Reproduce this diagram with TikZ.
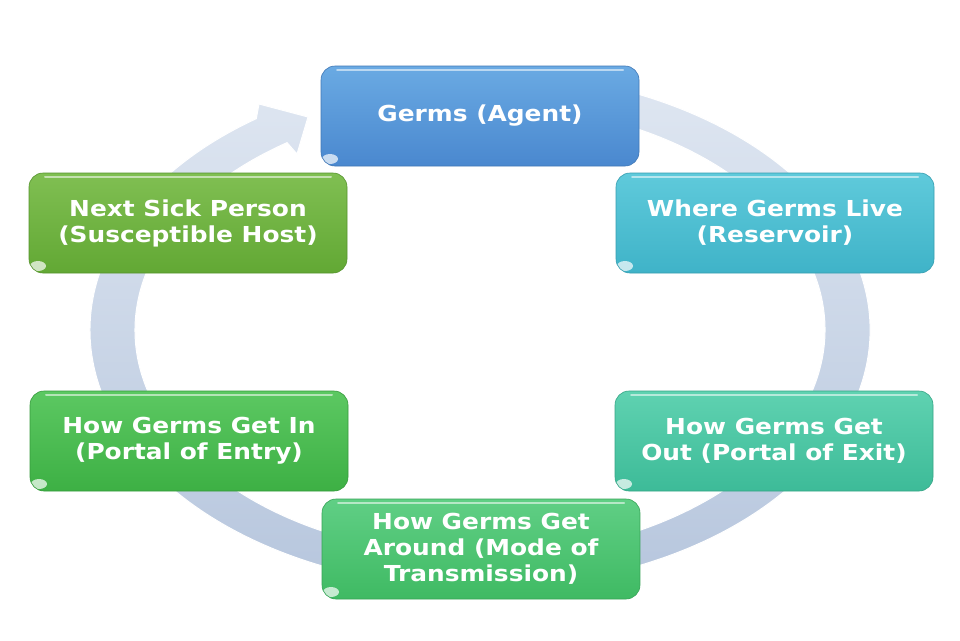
\documentclass[tikz,border=0pt]{standalone}
\usepackage{fontspec}
\newfontfamily\boxfont[FakeStretch=1.13]{DejaVu Sans}
\definecolor{ringtop}{HTML}{E2E9F3}
\definecolor{ringbot}{HTML}{B4C4DC}
\definecolor{agentT}{HTML}{6AAAE3}\definecolor{agentB}{HTML}{4A88CF}
\definecolor{resT}{HTML}{5FCADB}\definecolor{resB}{HTML}{3FB3C8}
\definecolor{exitT}{HTML}{5FD2B1}\definecolor{exitB}{HTML}{3DBB98}
\definecolor{modeT}{HTML}{60CF85}\definecolor{modeB}{HTML}{3FBA63}
\definecolor{entryT}{HTML}{5CC862}\definecolor{entryB}{HTML}{3DB044}
\definecolor{hostT}{HTML}{80BF52}\definecolor{hostB}{HTML}{62A834}
\tikzset{
  box/.style={rounded corners=14pt, minimum width=318pt, minimum height=100pt,
    inner sep=0pt, align=center, text=white,
    font=\boxfont\bfseries\fontsize{22}{26}\selectfont,
    path picture={
      \draw[white, opacity=.55, line width=2pt, line cap=round]
        ([shift={(16pt,-4pt)}]path picture bounding box.north west) --
        ([shift={(-16pt,-4pt)}]path picture bounding box.north east);
      \fill[white, opacity=.7]
        ([shift={(9pt,7pt)}]path picture bounding box.south west) ellipse [x radius=8pt, y radius=5pt];
    }},
  boxcol/.style={top color=#1T, bottom color=#1B, draw=#1B!88!black, line width=.6pt},
  ring/.style={top color=ringtop, bottom color=ringbot, draw=white, line width=1pt}
}
\begin{document}
\begin{tikzpicture}[x=1pt,y=-1pt]
\useasboundingbox[fill=white] (0,0) rectangle (960,640);
% cycle ring with arrowhead
\path[ring] ([shift={(480,330)}]-110:390 and 258)
  arc[start angle=-110, end angle=235, x radius=390, y radius=258]
  -- (259,104) -- (308,117) -- (297,154)
  -- ([shift={(480,330)}]236:345 and 226)
  arc[start angle=236, end angle=-110, x radius=345, y radius=226] -- cycle;
% boxes
\node[box, boxcol=agent] (agent) at (480,116) {Germs (Agent)};
\node[box, boxcol=res] (reservoir) at (775,223) {Where Germs Live\\(Reservoir)};
\node[box, boxcol=exit] (exit) at (774,441) {How Germs Get\\Out (Portal of Exit)};
\node[box, boxcol=mode] (mode) at (481,549) {How Germs Get\\Around (Mode of\\Transmission)};
\node[box, boxcol=entry] (entry) at (189,441) {How Germs Get In\\(Portal of Entry)};
\node[box, boxcol=host] (host) at (188,223) {Next Sick Person\\(Susceptible Host)};
\end{tikzpicture}
\end{document}
